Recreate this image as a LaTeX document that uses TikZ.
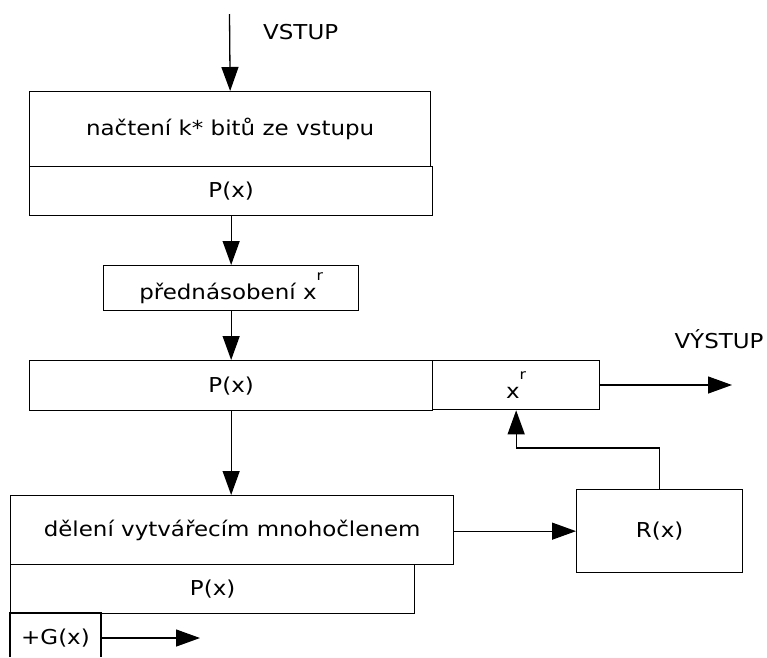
\documentclass[tikz,border=0pt]{standalone}
\usepackage{fontspec}
\setmainfont[FakeStretch=1.12]{DejaVu Sans}
\usetikzlibrary{arrows.meta,calc}
\tikzset{
  blk/.style={draw, line width=1.3pt, inner sep=0pt, anchor=north west,
    font=\fontsize{20.5}{24}\selectfont},
  flow/.style={line width=1.3pt, -{Triangle[length=24pt,width=17pt]}},
  lbl/.style={font=\fontsize{20.5}{24}\selectfont, inner sep=0pt},
}
\newcommand{\supr}{\raisebox{0.95em}{\fontsize{14}{14}\selectfont r}}
\begin{document}
\begin{tikzpicture}[x=1pt,y=-1pt]
\useasboundingbox (0,0) rectangle (767,657);
% register blocks
\node[blk, minimum width=401pt, minimum height=75pt] (load) at (29,91) {načtení k* bitů ze vstupu};
\node[blk, minimum width=403pt, minimum height=49pt] (loadP) at (29,166) {P(x)};
\node[blk, minimum width=255pt, minimum height=45pt] (pre) at (103,265) {přednásobení x\supr};
\node[blk, minimum width=403pt, minimum height=50pt] (reg) at (29,360) {P(x)};
\node[blk, minimum width=167pt, minimum height=49pt] (xr) at (432,360) {x\supr};
\node[blk, minimum width=443pt, minimum height=69pt] (div) at (10,495) {dělení vytvářecím mnohočlenem};
\node[blk, minimum width=404pt, minimum height=49pt] (divP) at (10,564) {P(x)};
\node[blk, minimum width=166pt, minimum height=83pt] (R) at (576,489) {R(x)};
% generator cell, open at the bottom
\draw[line width=1.3pt] (10,657) -- (10,613) -- (101,613) -- (101,657);
\node[lbl] (G) at (55.5,638) {+G(x)};
\coordinate (Gr) at (101,638);
% labels
\node[lbl, anchor=west] (vin) at (263,32) {VSTUP};
\node[lbl] (vout) at (719,339) {VÝSTUP};
% connectors
\coordinate (in) at (229.5,14);
\coordinate (out) at (732,385);
\coordinate (gout) at (200,638);
\draw[flow] (in) -- (load.north);
\draw[flow] (loadP.south -| pre.north) -- (pre.north);
\draw[flow] (pre.south) -- (reg.north -| pre.south);
\draw[flow] (reg.south) -- (div.north -| reg.south);
\draw[flow] (xr.east |- out) -- (out);
\draw[flow] (div.east |- R.west) -- (R.west);
\draw[flow] (R.north) -- ++(0,-41) -| (xr.south);
\draw[flow] (Gr) -- (gout);
\end{tikzpicture}
\end{document}
